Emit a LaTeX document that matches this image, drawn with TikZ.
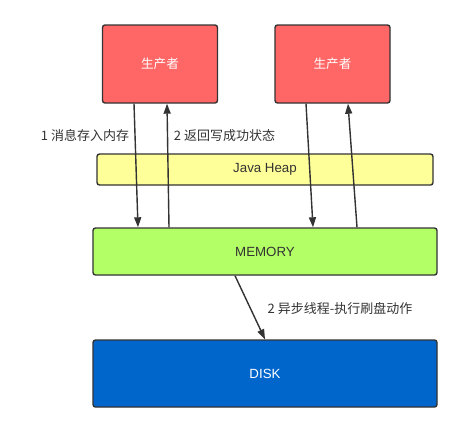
\documentclass[tikz,border=0pt]{standalone}
\usepackage{fontspec}
\setmainfont{Liberation Sans}
\newfontfamily\cjk{Noto Sans CJK SC}
\usetikzlibrary{arrows.meta,positioning}
\definecolor{prodc}{HTML}{FF6666}
\definecolor{heapc}{HTML}{FFFF99}
\definecolor{memc}{HTML}{B3FF66}
\definecolor{diskc}{HTML}{0066CC}
\definecolor{edge}{HTML}{333333}
\tikzset{
  box/.style={rectangle, draw=edge, line width=1.4pt, rounded corners=2.5pt, inner sep=0pt},
  prod/.style={box, fill=prodc, text=white, minimum width=115pt, minimum height=78pt, font=\cjk\fontsize{12.6}{14}\selectfont},
  heap/.style={box, fill=heapc, text=edge, minimum width=336pt, minimum height=31pt, font=\fontsize{13.3}{15}\selectfont},
  mem/.style={box, fill=memc, text=edge, minimum width=344pt, minimum height=47pt, font=\fontsize{13.3}{15}\selectfont},
  disk/.style={box, fill=diskc, text=white, minimum width=344pt, minimum height=67pt, font=\fontsize{13.3}{15}\selectfont},
  link/.style={-{Triangle[length=10pt,width=7pt]}, draw=edge, fill=edge, line width=1.4pt},
  lbl/.style={text=edge, font=\cjk\fontsize{13}{15}\selectfont},
}

\begin{document}
\begin{tikzpicture}[x=1pt, y=-1pt]
  \useasboundingbox (0,0) rectangle (462,432);
  \node[prod] (p1) at (160,64) {生产者};
  \node[prod] (p2) at (332.5,64) {生产者};
  \node[heap] (heap) at (265,169.5) {Java Heap};
  \node[mem] (mem) at (265,251.5) {MEMORY};
  \node[disk] (dsk) at (265,373.5) {DISK};
  % producer 1
  \draw[link] ([xshift=-26pt]p1.south) -- ([xshift=-127pt]mem.north);
  \draw[link] ([xshift=-96pt]mem.north) -- ([xshift=7pt]p1.south);
  % producer 2
  \draw[link] ([xshift=-26.5pt]p2.south) -- ([xshift=48pt]mem.north);
  \draw[link] ([xshift=92pt]mem.north) -- ([xshift=15.5pt]p2.south);
  % flush to disk
  \draw[link] ([xshift=-30pt]mem.south) -- (dsk.north);
  \node[lbl] (l1) at (85,136) {1 消息存入内存};
  \node[lbl] (l2) at (224.5,136) {2 返回写成功状态};
  \node[lbl] (l3) at (340,309) {2 异步线程-执行刷盘动作};
\end{tikzpicture}
\end{document}
